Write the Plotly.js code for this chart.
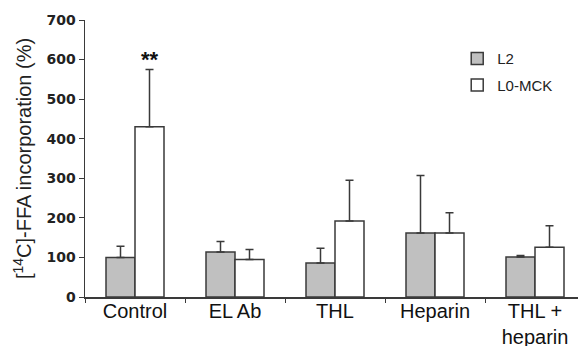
<!DOCTYPE html>
<html>
<head>
<meta charset="utf-8">
<script src="https://cdn.plot.ly/plotly-3.0.1.min.js"></script>
<style>html,body{margin:0;padding:0;background:#fff;}#chart{width:578px;height:346px;}</style>
</head>
<body>
<div id="chart"></div>
<script>
var categories = ["Control", "EL Ab", "THL", "Heparin", "THL +<br>heparin"];
var l2Values = [100, 114, 86, 162, 101];
var l2ErrUp = [28, 26, 37, 145, 4];
var mckValues = [430, 95, 192, 162, 126];
var mckErrUp = [145, 25, 103, 51, 54];
var seriesNames = ["L2", "L0-MCK"];
var yTicks = [0, 100, 200, 300, 400, 500, 600, 700];

var lineCol = "#3a3a3a";
var traces = [
  {
    type: "bar", name: seriesNames[0], x: categories, y: l2Values, legendgroup: "a",
    marker: {color: "#c0c0c0", line: {color: lineCol, width: 1.5}},
    error_y: {type: "data", symmetric: false, array: l2ErrUp, arrayminus: l2ErrUp.map(function(){return 0;}),
      color: lineCol, thickness: 1.5, width: 4}
  },
  {
    type: "bar", name: seriesNames[1], x: categories, y: mckValues, legendgroup: "b",
    marker: {color: "#ffffff", line: {color: lineCol, width: 1.5}},
    error_y: {type: "data", symmetric: false, array: mckErrUp, arrayminus: mckErrUp.map(function(){return 0;}),
      color: lineCol, thickness: 1.5, width: 4}
  }
];

var layout = {
  width: 578, height: 346,
  margin: {l: 85, r: 0, t: 20, b: 49},
  paper_bgcolor: "#fff", plot_bgcolor: "#fff",
  font: {family: "Liberation Sans, Arial, sans-serif", color: "#111"},
  barmode: "group", bargap: 0.42, bargroupgap: 0,
  showlegend: true,
  legend: {x: 0.755, y: 0.92, xanchor: "left", yanchor: "top", bgcolor: "rgba(0,0,0,0)",
    font: {size: 15, color: "#222"}, itemwidth: 30, tracegroupgap: 4},
  xaxis: {
    type: "category", range: [-0.5, 4.43],
    showline: true, linecolor: lineCol, linewidth: 1.5,
    ticks: "outside", tickson: "boundaries", ticklen: 4, tickcolor: lineCol, tickwidth: 1,
    ticklabelstandoff: -5,
    tickfont: {size: 20, color: "#111"}, showgrid: false, zeroline: false
  },
  yaxis: {
    range: [0, 700], tickvals: yTicks, ticktext: yTicks.map(function(v){return "<b>" + v + "</b>";}),
    showline: true, linecolor: lineCol, linewidth: 1.5,
    ticks: "outside", ticklen: 5, tickcolor: lineCol, tickwidth: 1,
    tickfont: {family: "DejaVu Sans, sans-serif", size: 14, color: "#222"}, showgrid: false, zeroline: false,
    title: {text: "[<sup>14</sup>C]-FFA incorporation (%)", font: {size: 20, color: "#222"}, standoff: 9}
  },
  annotations: [
    {x: 0.15, y: 600, xref: "x", yref: "y", text: "<b>**</b>", showarrow: false,
     font: {size: 22, color: "#111"}, yanchor: "middle"}
  ]
};

Plotly.newPlot("chart", traces, layout, {displayModeBar: false, staticPlot: true});
</script>
</body>
</html>
